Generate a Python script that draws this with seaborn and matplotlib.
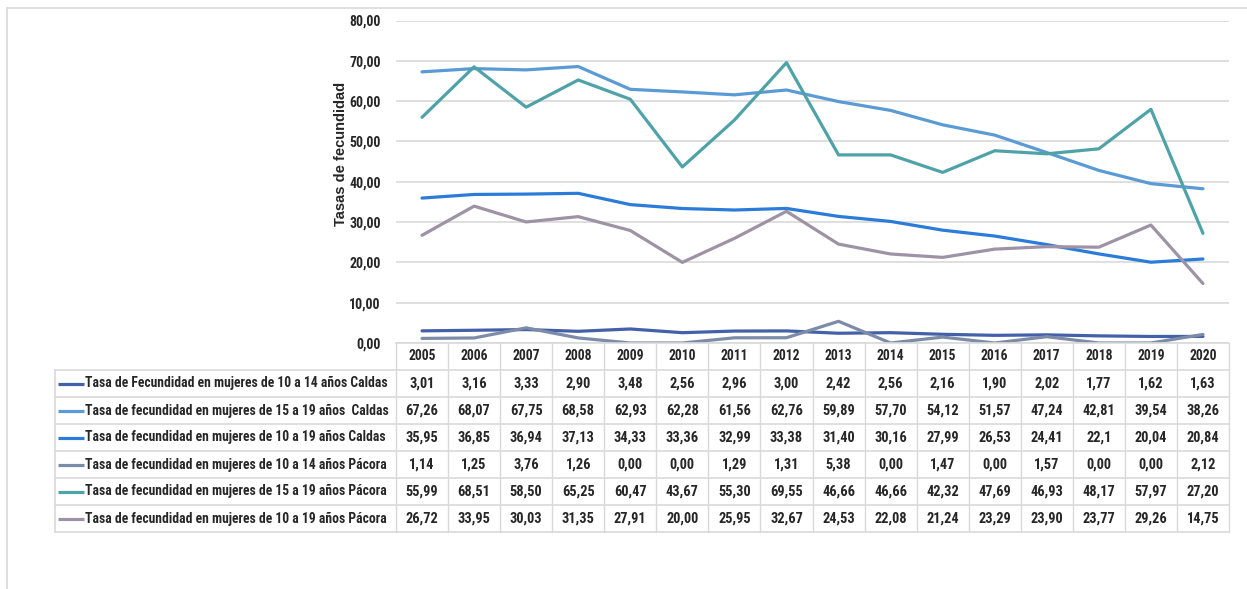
import numpy as np
import pandas as pd
import matplotlib
matplotlib.use('Agg')
import matplotlib.pyplot as plt
import seaborn as sns
from matplotlib import font_manager as fm

# --- data ---
years = [str(y) for y in range(2005, 2021)]
series_names = [
    'Tasa de Fecundidad en mujeres de 10 a 14 años Caldas',
    'Tasa de fecundidad en mujeres de 15 a 19 años  Caldas',
    'Tasa de fecundidad en mujeres de 10 a 19 años Caldas',
    'Tasa de fecundidad en mujeres de 10 a 14 años Pácora',
    'Tasa de fecundidad en mujeres de 15 a 19 años Pácora',
    'Tasa de fecundidad en mujeres de 10 a 19 años Pácora',
]
caldas_10_14 = [3.01, 3.16, 3.33, 2.90, 3.48, 2.56, 2.96, 3.00, 2.42, 2.56, 2.16, 1.90, 2.02, 1.77, 1.62, 1.63]
caldas_15_19 = [67.26, 68.07, 67.75, 68.58, 62.93, 62.28, 61.56, 62.76, 59.89, 57.70, 54.12, 51.57, 47.24, 42.81, 39.54, 38.26]
caldas_10_19 = [35.95, 36.85, 36.94, 37.13, 34.33, 33.36, 32.99, 33.38, 31.40, 30.16, 27.99, 26.53, 24.41, 22.1, 20.04, 20.84]
pacora_10_14 = [1.14, 1.25, 3.76, 1.26, 0.00, 0.00, 1.29, 1.31, 5.38, 0.00, 1.47, 0.00, 1.57, 0.00, 0.00, 2.12]
pacora_15_19 = [55.99, 68.51, 58.50, 65.25, 60.47, 43.67, 55.30, 69.55, 46.66, 46.66, 42.32, 47.69, 46.93, 48.17, 57.97, 27.20]
pacora_10_19 = [26.72, 33.95, 30.03, 31.35, 27.91, 20.00, 25.95, 32.67, 24.53, 22.08, 21.24, 23.29, 23.90, 23.77, 29.26, 14.75]
# table cell printed as "22,1" in the source
cell_text_overrides = {(2, 13): '22,1'}

all_series = [caldas_10_14, caldas_15_19, caldas_10_19, pacora_10_14, pacora_15_19, pacora_10_19]
colors = ['#4360A8', '#5B9BD5', '#2B7BD9', '#7C8CA8', '#4FA3A8', '#9E93A6']

df = pd.DataFrame({
    'x': np.tile(np.arange(len(years)), len(series_names)),
    'valor': np.concatenate(all_series),
    'serie': np.repeat(series_names, len(years)),
})

W, H = 1247, 589

sns.set_style('white')


def font_exists(name):
    try:
        fm.findfont(fm.FontProperties(family=name), fallback_to_default=False)
        return True
    except Exception:
        return False


# pick a narrow font (the source uses Calibri bold)
narrow = None
for cand in ['Liberation Sans Narrow', 'Roboto Condensed', 'Open Sans Condensed', 'Noto Sans Condensed']:
    if font_exists(cand):
        narrow = cand
        break
if narrow is None:
    FP = dict(family=['DejaVu Sans'], stretch='condensed', weight='bold')
else:
    FP = dict(family=[narrow, 'DejaVu Sans'], weight='bold')

plt.rcParams['font.family'] = FP['family']
plt.rcParams['font.weight'] = 'bold'
if 'stretch' in FP:
    plt.rcParams['font.stretch'] = 'condensed'

fig = plt.figure(figsize=(W / 100, H / 100), dpi=100)


def fx(px):
    return px / W


def fy(py):
    return 1 - py / H


ax_left, ax_right, ax_top, ax_bot = 396, 1229, 20.5, 343
ax = fig.add_axes([fx(ax_left), fy(ax_bot), fx(ax_right - ax_left), (ax_bot - ax_top) / H])

# overlay axes for table drawing in pixel coords
tax = fig.add_axes([0, 0, 1, 1])
tax.set_xlim(0, W)
tax.set_ylim(H, 0)
tax.axis('off')
tax.set_zorder(-1)

# fit font size so the longest label spans ~304 px like the source
renderer = fig.canvas.get_renderer()
probe = tax.text(0, 0, series_names[1], fontsize=10, **FP)
w10 = probe.get_window_extent(renderer).width
probe.remove()
fs = min(11.5, 10 * 304 / w10)

sns.lineplot(data=df, x='x', y='valor', hue='serie', palette=colors,
             hue_order=series_names, linewidth=2.3, legend=False, ax=ax)

ax.set_xlim(-0.5, len(years) - 0.5)
ax.set_ylim(0, 80)
yt = np.arange(0, 81, 10)
ax.set_yticks(yt)
ax.set_yticklabels([f'{v:.2f}'.replace('.', ',') for v in yt], fontsize=fs * 1.02, **FP)
ax.set_xticks([])
ax.set_xlabel('')
ax.set_ylabel('Tasas de fecundidad', fontsize=10.5, fontweight='bold',
              family=['Liberation Sans', 'DejaVu Sans'])
ax.yaxis.label.set_va('center')
ax.yaxis.set_label_coords((341 - ax_left) / (ax_right - ax_left), (ax_bot - 154) / (ax_bot - ax_top))
ax.grid(axis='y', color='#D9D9D9', linewidth=1.2)
ax.tick_params(axis='y', length=0, pad=11)
for s in ['top', 'right', 'left']:
    ax.spines[s].set_visible(False)
ax.spines['bottom'].set_color('#D9D9D9')
ax.spines['bottom'].set_linewidth(1.2)
ax.set_axisbelow(True)
ax.patch.set_alpha(0)

# --- data table below the axes ---
grid_c = '#D9D9D9'
lab_left = 55
col_w = (ax_right - ax_left) / len(years)
row_h = 27
header_top = ax_bot
header_bot = header_top + row_h
table_bot = header_bot + row_h * len(series_names)

for i in range(len(series_names) + 1):
    yy = header_bot + i * row_h
    tax.plot([lab_left, ax_right], [yy, yy], color=grid_c, lw=1.2)
for j in range(len(years) + 1):
    xx = ax_left + j * col_w
    tax.plot([xx, xx], [header_top, table_bot], color=grid_c, lw=1.0)
tax.plot([lab_left, lab_left], [header_bot, table_bot], color=grid_c, lw=1.2)

for j, yr in enumerate(years):
    tax.text(ax_left + (j + 0.5) * col_w, header_top + row_h / 2, yr,
             ha='center', va='center', fontsize=fs, **FP)

for i, (name, vals, c) in enumerate(zip(series_names, all_series, colors)):
    yc = header_bot + (i + 0.5) * row_h
    tax.plot([58, 84], [yc, yc], color=c, lw=2.3, solid_capstyle='butt')
    tax.text(85, yc, name, ha='left', va='center', fontsize=fs, **FP)
    for j, v in enumerate(vals):
        txt = cell_text_overrides.get((i, j), f'{v:.2f}'.replace('.', ','))
        tax.text(ax_left + (j + 0.5) * col_w, yc, txt, ha='center', va='center',
                 fontsize=fs * 1.05, **FP)

# outer chart border
tax.plot([7, 7], [8, H], color='#D9D9D9', lw=1.2)
tax.plot([7, W], [8, 8], color='#D9D9D9', lw=1.2)

fig.savefig('out.png', dpi=100)
